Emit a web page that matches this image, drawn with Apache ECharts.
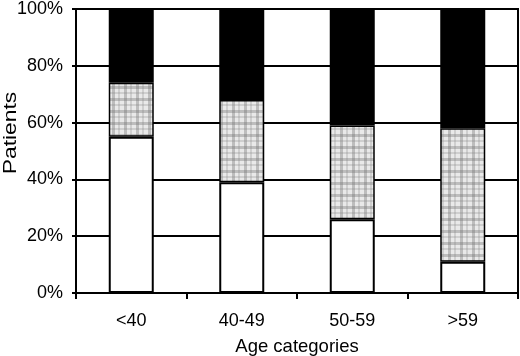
<!DOCTYPE html>
<html>
<head>
<meta charset="utf-8">
<script src="https://cdn.jsdelivr.net/npm/echarts@6/dist/echarts.min.js"></script>
<style>
  html, body { margin: 0; padding: 0; background: #fff; }
  #chart { width: 520px; height: 356px; }
</style>
</head>
<body>
<div id="chart"></div>
<script>
const categories = ["<40", "40-49", "50-59", ">59"];
const whiteValues = [55, 39, 26, 11];
const plaidValues = [19, 29, 33, 47];
const blackValues = [26, 32, 41, 42];
const yTicks = [0, 20, 40, 60, 80, 100];

// plaid tile for the middle segment
function plaidTile() {
  const c = document.createElement("canvas");
  c.width = 12;
  c.height = 12;
  const g = c.getContext("2d");
  g.fillStyle = "#e9e9e9";
  g.fillRect(0, 0, 12, 12);
  g.fillStyle = "rgba(110,110,110,0.35)";
  g.fillRect(0, 2, 12, 3);
  g.fillRect(4, 0, 3, 12);
  g.fillStyle = "rgba(130,130,130,0.25)";
  g.fillRect(0, 8, 12, 2);
  g.fillRect(10, 0, 2, 12);
  return c;
}

const chart = echarts.init(document.getElementById("chart"), null, { renderer: "canvas" });

const fontFamily = "Liberation Sans, Arial, sans-serif";

chart.setOption({
  animation: false,
  backgroundColor: "#fff",
  grid: {
    left: 76, right: 2, top: 9, bottom: 63,
    outerBoundsMode: "none", containLabel: false,
    show: true, borderColor: "#000", borderWidth: 2, backgroundColor: "transparent"
  },
  graphic: [{
    type: "text",
    x: 2, y: 133,
    rotation: Math.PI / 2,
    scaleX: 1.27,
    style: { text: "Patients", font: "18px " + fontFamily, fill: "#000", textAlign: "center", textVerticalAlign: "top" }
  }],
  xAxis: {
    type: "category",
    data: categories,
    name: "Age categories",
    nameLocation: "middle",
    nameGap: 44,
    nameTextStyle: { fontSize: 18.5, fontFamily: fontFamily, color: "#000" },
    axisLine: { lineStyle: { color: "#000", width: 2 } },
    axisTick: { show: true, length: 6, lineStyle: { color: "#000", width: 2 } },
    axisLabel: { fontSize: 18, margin: 19, fontFamily: fontFamily, color: "#000" }
  },
  yAxis: {
    type: "value",
    min: 0,
    max: 100,
    interval: 20,
    axisLine: { show: true, lineStyle: { color: "#000", width: 2 } },
    axisTick: { show: true, length: 4, lineStyle: { color: "#000", width: 2 } },
    axisLabel: {
      fontSize: 18, margin: 13, fontFamily: fontFamily, color: "#000",
      formatter: function (v) { return yTicks.indexOf(v) >= 0 ? v + "%" : ""; }
    },
    splitLine: { show: true, lineStyle: { color: "#000", width: 2 } }
  },
  series: [
    {
      type: "bar", stack: "s", data: whiteValues, barWidth: 45,
      itemStyle: { color: "#fff", borderColor: "#000", borderWidth: 2 }
    },
    {
      type: "bar", stack: "s", data: plaidValues, barWidth: 45,
      itemStyle: { color: { image: plaidTile(), repeat: "repeat" }, borderColor: "#000", borderWidth: 1.5 }
    },
    {
      type: "bar", stack: "s", data: blackValues, barWidth: 45,
      itemStyle: { color: "#000", borderColor: "#000", borderWidth: 2 }
    }
  ]
});
</script>
</body>
</html>
